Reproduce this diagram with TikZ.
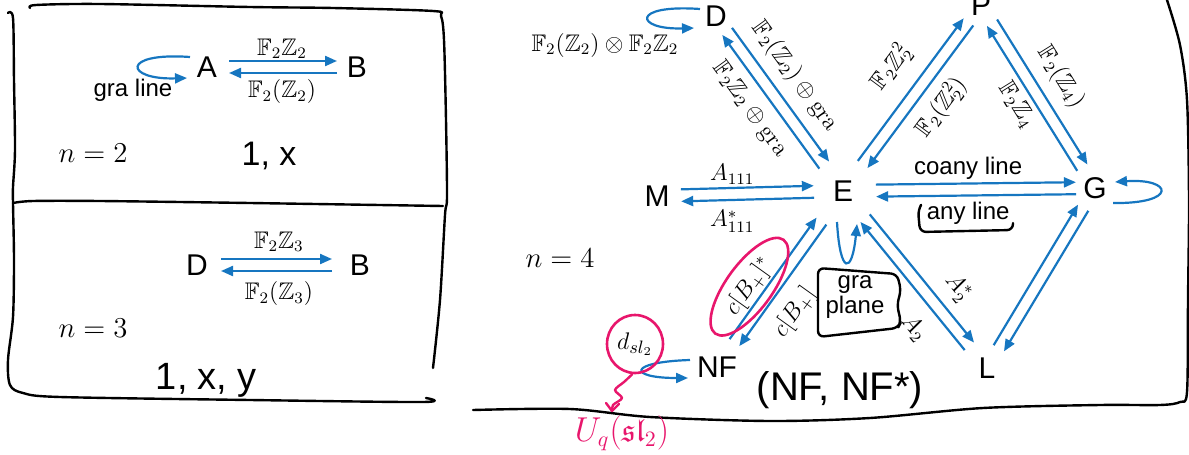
\documentclass[tikz,border=0pt]{standalone}
\usepackage{amssymb}
\usepackage{fontspec}
\setsansfont{Liberation Sans}
\usetikzlibrary{arrows.meta,calc,shapes.geometric}
\definecolor{arrowblue}{RGB}{22,118,192}
\definecolor{inkpink}{RGB}{232,22,108}
\tikzset{
    vertex/.style={font=\sffamily\fontsize{15}{18}\selectfont,inner sep=1pt},
    arr/.style={arrowblue,line width=1.1pt,-{Triangle[length=6pt,width=5pt]}},
    lbl/.style={font=\fontsize{12}{14}\selectfont,inner sep=0pt},
    txt/.style={font=\sffamily\fontsize{12}{14}\selectfont,inner sep=0pt},
    hand/.style={line width=1.2pt,line cap=round,line join=round},
    ink/.style={font=\sffamily\fontsize{17}{20}\selectfont,inner sep=0pt},
    pinkline/.style={inkpink,line width=1.2pt,line cap=round,line join=round},
}

\begin{document}
\begin{tikzpicture}[x=0.5pt,y=-0.5pt]
    \useasboundingbox (0,0) rectangle (1189,455);
    % frames
    \draw[hand] plot[smooth] coordinates {(30,8) (36,5) (100,4) (250,7) (333,8) (433,11) (441,16) (444,40) (446,120) (447,197) (445,215) (440,300) (433,368)};
    \draw[hand] plot[smooth] coordinates {(8,13) (13,18) (14,80) (15,150) (13,187) (13,203) (14,260) (13,317) (8,360) (10,385) (23,393) (60,397) (250,400) (423,402) (426,398)};
    \draw[hand] plot[smooth] coordinates {(13,203) (33,201) (100,201) (250,203) (443,206)};
    \draw[hand] plot[smooth] coordinates {(473,410) (570,409) (650,417) (770,421) (870,418) (983,408) (1100,405) (1160,405) (1180,402) (1187,392) (1188,300) (1189,200) (1187,100) (1180,45) (1167,0)};

    % n = 2
    \node[vertex] (A) at (207,67) {A};
    \node[vertex] (B) at (357,67) {B};
    % n = 3
    \node[vertex] (D3) at (197,265) {D};
    \node[vertex] (B3) at (360,265) {B};
    % n = 4
    \node[vertex] (D) at (716,16) {D};
    \node[vertex] (P) at (981,5) {P};
    \node[vertex] (M) at (657,196) {M};
    \node[vertex] (E) at (843,191) {E};
    \node[vertex] (G) at (1095,188) {G};
    \node[vertex] (NF) at (717,367) {NF};
    \node[vertex] (L) at (987,368) {L};

    \foreach \u/\v/\su/\sv in {A/B/11pt/10pt,D3/B3/12pt/14pt,D/E/9.5pt/16pt,E/P/16.5pt/10.5pt,P/G/10.4pt/12pt,M/E/12pt/14.5pt,E/G/16.5pt/9.5pt,NF/E/15pt/18.5pt,E/L/17.5pt/14pt,L/G/11.5pt/11.5pt}{
        \draw[arr,shorten <=\su,shorten >=\sv] ($(\u)!3pt!90:(\v)$) -- ($(\v)!3pt!-90:(\u)$);
        \draw[arr,shorten <=\sv,shorten >=\su] ($(\v)!3pt!90:(\u)$) -- ($(\u)!3pt!-90:(\v)$);
    }

    % loops
    \draw[arr] ($(A)+(-17,-10)$) .. controls ($(A)+(-87,-15)$) and ($(A)+(-82,13)$) .. ($(A)+(-20,11)$);
    \draw[arr] ($(D)+(-16,-7)$) .. controls ($(D)+(-86,-12)$) and ($(D)+(-81,14)$) .. ($(D)+(-22,12)$);
    \draw[arr] ($(G)+(18,15)$) .. controls ($(G)+(83,16)$) and ($(G)+(78,-10)$) .. ($(G)+(20,-6)$);
    \draw[arr] ($(NF)+(-27,-7)$) .. controls ($(NF)+(-90,-5)$) and ($(NF)+(-89,11)$) .. ($(NF)+(-29,11)$);
    \draw[arr] ($(E)+(-6,31)$) .. controls ($(E)+(-3,84)$) and ($(E)+(9,84)$) .. ($(E)+(14,33)$);

    % labels
    \path (A) -- (B) node[lbl,midway,above=4pt] {$\mathbb{F}_2\mathbb{Z}_2$}
        node[lbl,midway,below=6pt] {$\mathbb{F}_2(\mathbb{Z}_2)$};
    \path (D3) -- (B3) node[lbl,midway,above=6.5pt] {$\mathbb{F}_2\mathbb{Z}_3$}
        node[lbl,midway,below=8pt] {$\mathbb{F}_2(\mathbb{Z}_3)$};
    \path (D) -- (E) node[lbl,sloped,pos=.43,above=8pt] {$\mathbb{F}_2(\mathbb{Z}_2)\oplus\mathrm{gra}$}
        node[lbl,sloped,pos=.43,below=8pt] {$\mathbb{F}_2\mathbb{Z}_2\oplus\mathrm{gra}$};
    \path (E) -- (P) node[lbl,sloped,pos=.56,above=11pt] {$\mathbb{F}_2\mathbb{Z}_2^2$}
        node[lbl,sloped,pos=.55,below=8pt] {$\mathbb{F}_2(\mathbb{Z}_2^2)$};
    \path (P) -- (G) node[lbl,sloped,pos=.48,above=8.5pt] {$\mathbb{F}_2(\mathbb{Z}_4)$}
        node[lbl,sloped,pos=.48,below=6pt] {$\mathbb{F}_2\mathbb{Z}_4$};
    \path (M) -- (E) node[lbl,pos=.38,above=4.5pt] {$A_{111}$}
        node[lbl,pos=.38,below=8pt] {$A^*_{111}$};
    \path (E) -- (G) node[txt,midway,above=5pt] {coany line}
        node[txt,midway,below=6pt] (anyl) {any line};
    \path (NF) -- (E) node[lbl,sloped,pos=.37,above=4pt] (cBs) {$c[B_+]^*$}
        node[lbl,sloped,pos=.4,below=9.5pt] {$c[B_+]$};
    \path (E) -- (L) node[lbl,sloped,pos=.67,above=8pt] {$A_2^*$}
        node[lbl,sloped,pos=.69,below=10.5pt] {$A_2$};

    \node[txt] (gl) at (133,90) {gra line};
    \node[lbl] (dl) at (605,45) {$\mathbb{F}_2(\mathbb{Z}_2)\otimes\mathbb{F}_2\mathbb{Z}_2$};
    \node[txt,align=center,font=\sffamily\fontsize{12}{12.5}\selectfont] (gp) at (855,297) {gra\\plane};
    \node[lbl,font=\fontsize{14}{16}\selectfont] (n2) at (93,153) {$n=2$};
    \node[lbl,font=\fontsize{14}{16}\selectfont] (n3) at (93,328) {$n=3$};
    \node[lbl,font=\fontsize{14}{16}\selectfont] (n4) at (560,258) {$n=4$};

    % handwriting
    \node[ink] (h2) at (269,156) {1, x};
    \node[ink,font=\sffamily\fontsize{19}{20}\selectfont] (h3) at (206,380) {1,\hspace{5pt}x,\hspace{5pt}y};
    \node[ink,font=\sffamily\fontsize{20}{22}\selectfont] (h4) at (840,390) {(NF, NF*)};
    \draw[hand,rounded corners=3pt] (818,268) -- (897,274) -- (901,290) -- (897,305) -- (901,322) -- (898,328) -- (818,337) -- cycle;
    \draw[hand,rounded corners=3pt] (921,205) -- (918,210) -- (920,232) -- (1013,230) -- (1013,223);

    % pink notes
    \node[ellipse,draw=inkpink,line width=1.3pt,rotate=54,minimum width=58pt,minimum height=23pt] at (cBs) {};
    \node[ellipse,draw=inkpink,line width=1.3pt,minimum width=28pt,minimum height=29pt,inner sep=0pt,font=\fontsize{13}{14}\selectfont] (dsl) at (635,344) {$d_{sl_2}$};
    \draw[pinkline] plot[smooth] coordinates {(dsl.-95) (624,382) (615,390) (622,398) (613,405) (612,411)};
    \draw[pinkline] (606,403) -- (612,411) -- (619,404);
    \node[ink,text=inkpink,font=\fontsize{16}{18}\selectfont] (uq) at (622,433) {$U_q(\mathfrak{sl}_2)$};
\end{tikzpicture}
\end{document}
